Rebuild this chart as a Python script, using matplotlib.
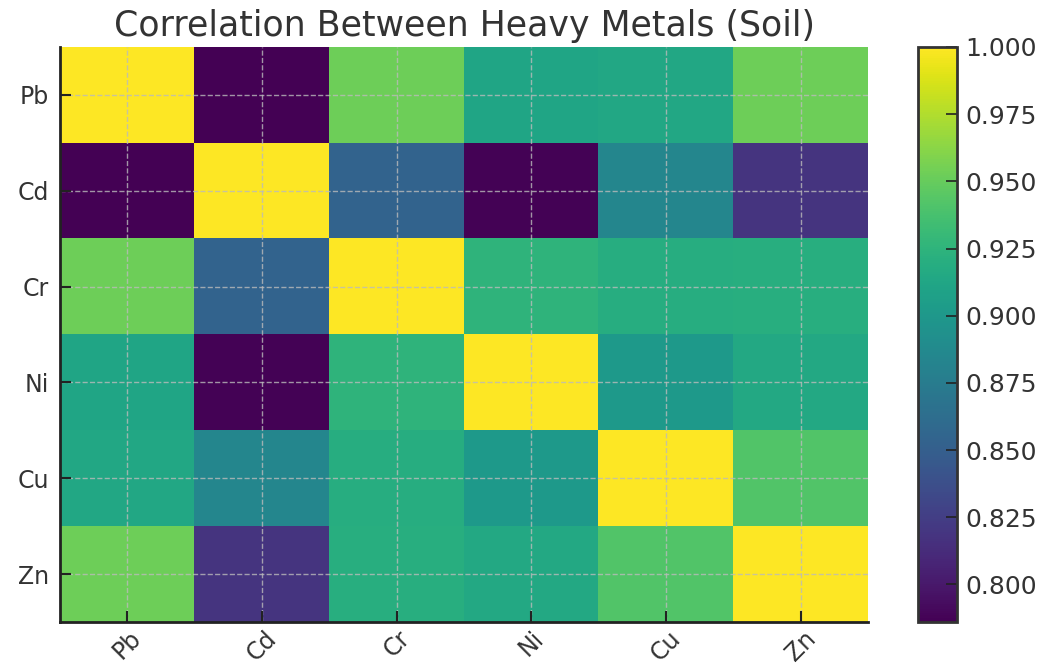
import matplotlib
matplotlib.use("Agg")
import matplotlib.pyplot as plt
import numpy as np

metals = ["Pb", "Cd", "Cr", "Ni", "Cu", "Zn"]
row_pb = [1.000, 0.786, 0.953, 0.912, 0.914, 0.953]
row_cd = [0.786, 1.000, 0.854, 0.787, 0.884, 0.818]
row_cr = [0.953, 0.854, 1.000, 0.925, 0.919, 0.920]
row_ni = [0.912, 0.787, 0.925, 1.000, 0.902, 0.915]
row_cu = [0.914, 0.884, 0.919, 0.902, 1.000, 0.942]
row_zn = [0.953, 0.818, 0.920, 0.915, 0.942, 1.000]
cbar_ticks = [0.800, 0.825, 0.850, 0.875, 0.900, 0.925, 0.950, 0.975, 1.000]

corr = np.array([row_pb, row_cd, row_cr, row_ni, row_cu, row_zn])

W, H = 1058, 665
fig = plt.figure(figsize=(W / 100, H / 100), dpi=100)
ax = fig.add_axes([60 / W, 1 - 622 / H, 808 / W, 575 / H])
cax = fig.add_axes([918 / W, 1 - 622 / H, 39 / W, 575 / H])

im = ax.imshow(corr, cmap="viridis", aspect="auto", interpolation="nearest")

txt = "#333333"
ax.set_xticks(range(len(metals)))
ax.set_yticks(range(len(metals)))
ax.set_xticklabels(metals, rotation=45, ha="center", fontsize=17, color=txt)
ax.set_yticklabels(metals, fontsize=17, color=txt)
ax.tick_params(direction="in", length=8, width=1.5, color="#222222")
ax.tick_params(axis="y", pad=8)
ax.tick_params(axis="x", pad=3)
ax.grid(True, color="#bbbbbb", linestyle="--", linewidth=1.0, alpha=0.8)
for s in ["top", "right"]:
    ax.spines[s].set_visible(False)
for s in ["left", "bottom"]:
    ax.spines[s].set_color("#222222")
    ax.spines[s].set_linewidth(2)

ax.set_title("Correlation Between Heavy Metals (Soil)", fontsize=25, color=txt, pad=8)

cb = fig.colorbar(im, cax=cax)
cb.set_ticks(cbar_ticks)
cb.ax.set_yticklabels([f"{t:.3f}" for t in cbar_ticks], fontsize=18, color=txt)
cb.ax.tick_params(direction="in", length=8, width=1.2, color="#222222", pad=6)
cb.outline.set_edgecolor("#333333")
cb.outline.set_linewidth(2)

fig.savefig("out.png", dpi=100)
